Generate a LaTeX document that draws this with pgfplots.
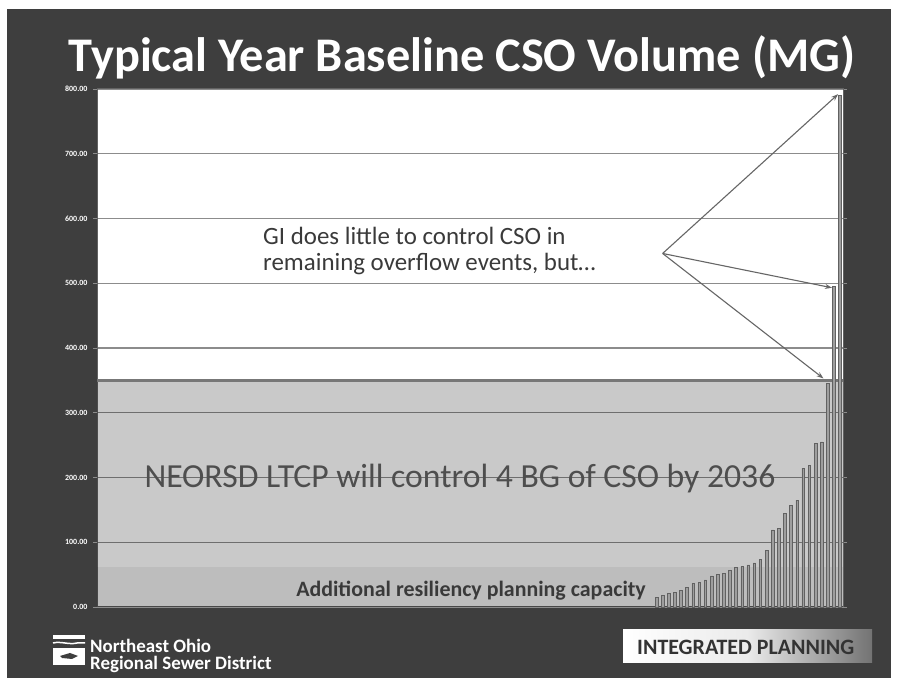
\documentclass[border=0pt]{standalone}
\usepackage{pgfplots}
\pgfplotsset{compat=1.18}
\usepackage{fontspec}
\setmainfont{Carlito}
\usetikzlibrary{arrows.meta}
\definecolor{slidebg}{HTML}{3E3E3E}
\definecolor{gridc}{HTML}{8C8C8C}
\definecolor{txt}{HTML}{3A3A3A}
\pgfplotstableread{
idx val
91 15
92 18
93 21
94 23
95 26
96 30
97 36
98 38
99 42
100 48
101 50
102 52
103 57
104 61
105 63
106 65
107 68
108 74
109 88
110 119
111 122
112 145
113 157
114 165
115 214
116 219
117 253
118 255
119 345
120 495
121 790
}\cso
\begin{document}
\begin{tikzpicture}[x=1bp,y=1bp]
\useasboundingbox (0,0) rectangle (899,683);
\fill[white] (0,0) rectangle (899,683);
\fill[slidebg] (7,5) rectangle (891,674);
% title
\node[text=white,font=\bfseries\fontsize{48.5}{52}\selectfont] at (462,626) {Typical Year Baseline CSO Volume (MG)};
\begin{axis}[
  at={(97bp,76bp)}, anchor=south west,
  scale only axis, width=746bp, height=518bp,
  xmin=-0.5, xmax=121.5, ymin=0, ymax=800,
  ytick={0,100,...,800},
  xtick=\empty,
  axis background/.style={fill=white},
  ymajorgrids, grid style={gridc, line width=1.3bp},
  axis line style={gridc!70!black, line width=1bp},
  tick style={gridc, line width=0.8bp},
  tick align=outside, major tick length=4bp,
  y tick label style={text=white, font=\bfseries\fontsize{8}{8}\selectfont,
     /pgf/number format/.cd, fixed, fixed zerofill, precision=2, assume math mode=true},
  yticklabel shift=2bp,
  clip=false,
]
% overlay: LTCP control region and resiliency band
\fill[black, fill opacity=0.21] (axis cs:-0.5,0) rectangle (axis cs:121.5,350);
\fill[black, fill opacity=0.06] (axis cs:-0.5,0) rectangle (axis cs:121.5,62);
\draw[gridc!85!black, line width=3.5bp] (axis cs:-0.5,350) -- (axis cs:121.5,350);
\addplot[ybar, bar width=2.6bp, draw=black!62, fill=black!38, line width=0.6bp] table[x=idx,y=val] {\cso};
% arrows
\draw[-{Stealth[length=7bp,width=5bp]}, black!60, line width=1.1bp] (axis cs:92,546) -- (axis cs:120.7,792);
\draw[-{Stealth[length=7bp,width=5bp]}, black!60, line width=1.1bp] (axis cs:92,546) -- (axis cs:119.7,493);
\draw[-{Stealth[length=7bp,width=5bp]}, black!60, line width=1.1bp] (axis cs:92,546) -- (axis cs:118.3,353);
\end{axis}
% annotations
\node[anchor=north west, align=left, text=txt, font=\fontsize{25}{26}\selectfont, inner sep=0pt] at (263,456) {GI does little to control CSO in\\ remaining overflow events, but\ldots};
\node[text=txt!90!white, font=\fontsize{33.8}{36}\selectfont] at (460,204) {NEORSD LTCP will control 4 BG of CSO by 2036};
\node[text=txt, font=\bfseries\fontsize{22}{24}\selectfont] at (471,92) {Additional resiliency planning capacity};
% logo
\fill[white] (53,44) rectangle (85,48);
\draw[white, line width=1.5bp] (53,40) .. controls (61,42) and (69,38) .. (77,40) -- (85,40);
\fill[white] (53,18) rectangle (85,35);
\fill[slidebg] (60,27) -- (70,30) -- (78,27) -- (72,24) -- (62,25) -- cycle;
\node[anchor=west, text=white, align=left, font=\bfseries\fontsize{19}{17.5}\selectfont, inner sep=0pt] at (90,27) {Northeast Ohio\\Regional Sewer District};
% integrated planning badge
\shade[left color=white, right color=black!55, middle color=white!92!black] (623,20) rectangle (872,53);
\node[anchor=west, text=black!80, font=\bfseries\fontsize{22}{24}\selectfont, inner sep=0pt] at (637,36) {INTEGRATED PLANNING};
\end{tikzpicture}
\end{document}
